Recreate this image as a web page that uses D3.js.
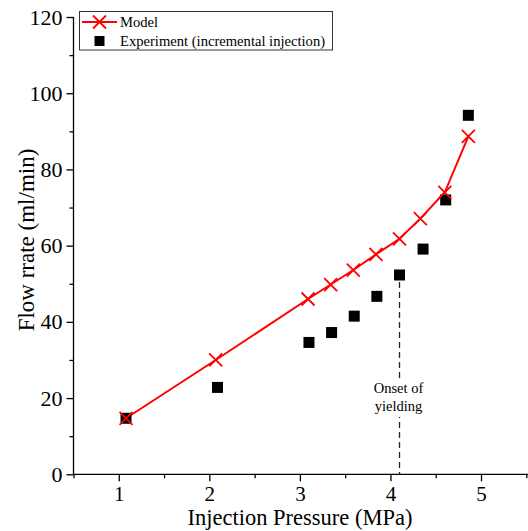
<!DOCTYPE html>
<html>
<head>
<meta charset="utf-8">
<script src="https://cdn.jsdelivr.net/npm/d3@7"></script>
<style>
  html, body { margin: 0; padding: 0; background: #fff; }
  svg { display: block; }
  text { font-family: "Liberation Serif", "Times New Roman", serif; }
</style>
</head>
<body>
<svg id="chart" width="528" height="531"></svg>
<script>
// ---- data ----
const pressureModel = [1.08, 2.07, 3.09, 3.34, 3.59, 3.84, 4.1, 4.33, 4.6, 4.86];
const flowModel     = [14.7, 30.0, 46.0, 49.8, 53.6, 57.7, 61.8, 67.1, 74.0, 88.7];
const pressureExp   = [1.08, 2.09, 3.1, 3.35, 3.6, 3.85, 4.1, 4.36, 4.61, 4.86];
const flowExp       = [14.7, 22.8, 34.6, 37.2, 41.5, 46.7, 52.3, 59.1, 72.0, 94.2];
const xTicks = [1, 2, 3, 4, 5];
const yTicks = [0, 20, 40, 60, 80, 100, 120];
const xMinorTicks = [0.5, 1.5, 2.5, 3.5, 4.5, 5.5];
const yMinorTicks = [10, 30, 50, 70, 90, 110];
const seriesNames = ["Model", "Experiment (incremental injection)"];
const yieldPressure = 4.1;
const yieldLabel = ["Onset of", "yielding"];
const xTitle = "Injection Pressure (MPa)";
const yTitle = "Flow rrate (ml/min)";

// ---- layout ----
const svg = d3.select("#chart");
const mLeft = 73.5, mRight = 526.3, mTop = 17, mBottom = 474.3;
const x = d3.scaleLinear().domain([0.5, 5.5]).range([mLeft, mRight]);
const y = d3.scaleLinear().domain([0, 120]).range([mBottom, mTop]);

const red = "#ff0000";

// axes
const xAxis = svg.append("g").attr("transform", `translate(0,${mBottom})`)
  .call(d3.axisBottom(x).tickValues(xTicks).tickFormat(d3.format("d")).tickSize(7).tickPadding(5));
const xMinor = svg.append("g").attr("transform", `translate(0,${mBottom})`)
  .call(d3.axisBottom(x).tickValues(xMinorTicks).tickFormat("").tickSize(4));
xMinor.select(".domain").remove();
xAxis.select(".domain").attr("d", `M${mLeft},0H528`);

const yAxis = svg.append("g").attr("transform", `translate(${mLeft},0)`)
  .call(d3.axisLeft(y).tickValues(yTicks).tickFormat(d3.format("d")).tickSize(7).tickPadding(4));
const yMinor = svg.append("g").attr("transform", `translate(${mLeft},0)`)
  .call(d3.axisLeft(y).tickValues(yMinorTicks).tickFormat("").tickSize(4));
yMinor.select(".domain").remove();
yAxis.select(".domain").attr("d", `M0,${mTop}V${mBottom}`);

svg.selectAll(".tick line, .domain").attr("stroke", "#000").attr("stroke-width", 1.3);
yAxis.selectAll(".tick text").attr("font-size", 22).attr("fill", "#000");
xAxis.selectAll(".tick text").attr("font-size", 21).attr("fill", "#000");

// axis titles
svg.append("text").attr("x", 300).attr("y", 525).attr("text-anchor", "middle")
  .attr("font-size", 22.5).text(xTitle);
svg.append("text").attr("transform", `translate(34,240) rotate(-90)`).attr("text-anchor", "middle")
  .attr("font-size", 23).text(yTitle);

// dashed yield line
const yExpAtYield = flowExp[pressureExp.indexOf(yieldPressure)];
svg.append("line")
  .attr("x1", x(yieldPressure)).attr("x2", x(yieldPressure))
  .attr("y1", y(yExpAtYield) + 7).attr("y2", mBottom)
  .attr("stroke", "#222").attr("stroke-width", 1.3).attr("stroke-dasharray", "6,4");
const labelG = svg.append("g");
labelG.append("rect").attr("x", x(yieldPressure) - 28).attr("y", 381).attr("width", 56).attr("height", 36).attr("fill", "#fff");
yieldLabel.forEach((t, i) => {
  labelG.append("text").attr("x", x(yieldPressure) - 1).attr("y", 393 + i * 18)
    .attr("text-anchor", "middle").attr("font-size", 14.5).text(t);
});

// model line
const modelData = pressureModel.map((p, i) => [p, flowModel[i]]);
svg.append("path").datum(modelData)
  .attr("fill", "none").attr("stroke", red).attr("stroke-width", 2)
  .attr("d", d3.line().x(d => x(d[0])).y(d => y(d[1])));

// experiment squares
const sq = 11;
svg.selectAll("rect.exp").data(pressureExp.map((p, i) => [p, flowExp[i]])).enter()
  .append("rect").attr("class", "exp")
  .attr("x", d => x(d[0]) - sq / 2).attr("y", d => y(d[1]) - sq / 2)
  .attr("width", sq).attr("height", sq).attr("fill", "#000");

// model X markers
const xm = 6.5;
const crossPath = (cx, cy) => `M${cx - xm},${cy - xm}L${cx + xm},${cy + xm}M${cx - xm},${cy + xm}L${cx + xm},${cy - xm}`;
svg.selectAll("path.xm").data(modelData).enter()
  .append("path").attr("class", "xm")
  .attr("d", d => crossPath(x(d[0]), y(d[1])))
  .attr("stroke", red).attr("stroke-width", 1.8).attr("fill", "none");

// legend
const lg = svg.append("g");
lg.append("rect").attr("x", 79.5).attr("y", 11.5).attr("width", 253).attr("height", 38.5)
  .attr("fill", "#fff").attr("stroke", "#333").attr("stroke-width", 1);
lg.append("line").attr("x1", 82).attr("x2", 117).attr("y1", 22).attr("y2", 22)
  .attr("stroke", red).attr("stroke-width", 2);
lg.append("path").attr("d", crossPath(99.5, 22)).attr("stroke", red).attr("stroke-width", 1.8);
lg.append("rect").attr("x", 94.5).attr("y", 36).attr("width", 10).attr("height", 10).attr("fill", "#000");
lg.append("text").attr("x", 120).attr("y", 26.5).attr("font-size", 14.6).text(seriesNames[0]);
lg.append("text").attr("x", 120).attr("y", 45.5).attr("font-size", 14.6).text(seriesNames[1]);
</script>
</body>
</html>
